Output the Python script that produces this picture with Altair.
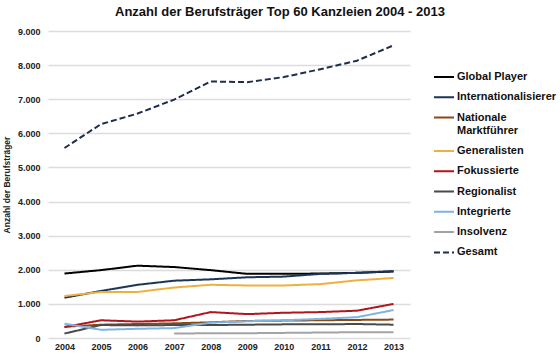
import altair as alt
import pandas as pd

years = ["2004", "2005", "2006", "2007", "2008", "2009", "2010", "2011", "2012", "2013"]
series = ["Global Player", "Internationalisierer", "Nationale Marktführer", "Generalisten",
          "Fokussierte", "Regionalist", "Integrierte", "Insolvenz", "Gesamt"]
colors = ["#000000", "#1b3556", "#8a4a16", "#eeb140", "#b0161e", "#4a4a4a", "#7fb3e0", "#a3a3a3", "#1d2d4c"]
dashes = [[1, 0]] * 8 + [[6, 3]]

global_player = [1890, 1990, 2120, 2080, 1990, 1880, 1880, 1890, 1910, 1950]
internationalisierer = [1180, 1380, 1560, 1680, 1720, 1780, 1800, 1880, 1910, 1960]
nationale = [330, 390, 410, 430, 460, 500, 510, 520, 530, 540]
generalisten = [1230, 1350, 1350, 1480, 1560, 1540, 1540, 1580, 1690, 1760]
fokussierte = [320, 520, 480, 520, 760, 700, 740, 760, 800, 1000]
regionalist = [130, 380, 370, 380, 380, 390, 400, 400, 410, 390]
integrierte = [420, 240, 270, 290, 450, 490, 520, 560, 610, 820]
insolvenz = [None, None, None, 130, 140, 140, 150, 160, 170, 170]
gesamt = [5570, 6270, 6580, 6990, 7520, 7500, 7650, 7880, 8130, 8580]

values = [global_player, internationalisierer, nationale, generalisten, fokussierte,
          regionalist, integrierte, insolvenz, gesamt]

rows = []
for s, vals in zip(series, values):
    for y, v in zip(years, vals):
        if v is not None:
            rows.append({"Jahr": y, "Serie": s, "Wert": v})
df = pd.DataFrame(rows)

font = "Liberation Sans"

chart = alt.Chart(df).mark_line(strokeWidth=2).encode(
    x=alt.X("Jahr:O", title=None, sort=years,
            scale=alt.Scale(type="point", padding=0.45),
            axis=alt.Axis(labelAngle=0, ticks=False, domain=False, labelFontWeight="bold",
                          labelFontSize=9, labelColor="#222222", labelPadding=4, labelFont=font)),
    y=alt.Y("Wert:Q", title="Anzahl der Berufsträger",
            scale=alt.Scale(domain=[0, 9000], nice=False),
            axis=alt.Axis(values=list(range(0, 9001, 1000)), ticks=False, domain=False,
                          labelExpr="replace(format(datum.value, ','), ',', '.')",
                          labelFontWeight="bold", labelFontSize=9, labelColor="#222222",
                          labelPadding=8, labelFont=font,
                          titleFontSize=8.5, titleFontWeight="bold", titleColor="#222222",
                          titleFont=font, titlePadding=6,
                          gridColor="#dcdcdc", gridWidth=1.5)),
    color=alt.Color("Serie:N", sort=series,
                    scale=alt.Scale(domain=series, range=colors),
                    legend=alt.Legend(title=None, symbolType="stroke", symbolStrokeWidth=2,
                                      symbolSize=400, labelFontWeight="bold", labelFontSize=11,
                                      labelFont=font, labelColor="#111111", rowPadding=4.3,
                                      labelLimit=200,
                                      labelExpr="datum.label == 'Nationale Marktführer' ? ['Nationale', 'Marktführer'] : datum.label",
                                      orient="none", legendX=385, legendY=35, labelOffset=2)),
    strokeDash=alt.StrokeDash("Serie:N", sort=series,
                              scale=alt.Scale(domain=series, range=dashes),
                              legend=None),
).properties(
    width=362, height=307,
    title=alt.Title("Anzahl der Berufsträger Top 60 Kanzleien 2004 - 2013",
                    fontSize=13, fontWeight="bold", font=font, color="#111111",
                    anchor="middle", dx=51, offset=8),
    autosize=alt.AutoSizeParams(type="none"),
    padding={"left": 48, "top": 31, "right": 150, "bottom": 16},
).configure_view(stroke=None)

chart.save("out.html", embed_options={"renderer": "svg", "actions": False})
